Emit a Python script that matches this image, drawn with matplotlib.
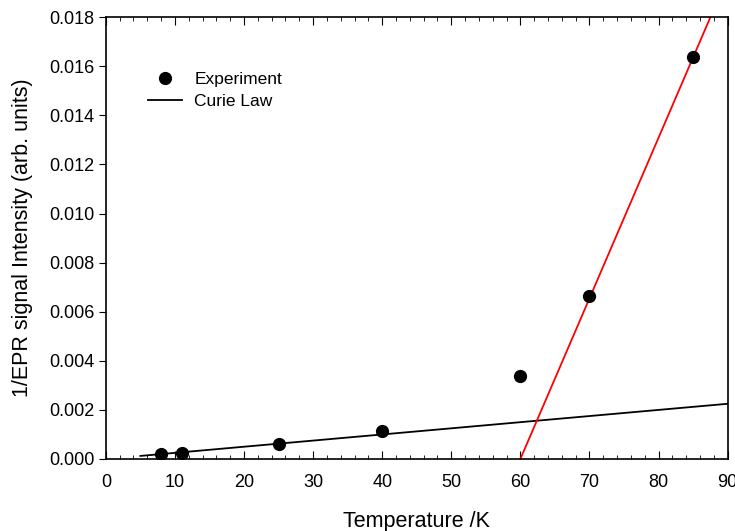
import numpy as np
import matplotlib.pyplot as plt
from matplotlib.ticker import MultipleLocator

plt.rcParams['font.family'] = ['Liberation Sans', 'DejaVu Sans']

# experimental points
temp = [8, 11, 25, 40, 60, 70, 85]
inv_epr = [0.00020, 0.00025, 0.00060, 0.00115, 0.00338, 0.00665, 0.01637]

# Curie law line
curie_t = [5, 90]
curie_y = [0.000125, 0.00225]

# red fit above transition
fit_t = [60, 87.5]
fit_y = [0.0, 0.018]

fig = plt.figure(figsize=(7.35, 5.31), dpi=100)
ax = fig.add_axes([0.144, 0.1356, 0.846, 0.832])

ax.plot(temp, inv_epr, 'o', color='black', markersize=8.5, label='Experiment', zorder=3)
ax.plot(curie_t, curie_y, '-', color='black', lw=1.3, label='Curie Law')
ax.plot(fit_t, fit_y, '-', color='red', lw=1.3)

ax.set_xlim(0, 90)
ax.set_ylim(0, 0.018)
ax.xaxis.set_major_locator(MultipleLocator(10))
ax.xaxis.set_minor_locator(MultipleLocator(2))
ax.yaxis.set_major_locator(MultipleLocator(0.002))
ax.yaxis.set_major_formatter(plt.FormatStrFormatter('%.3f'))

ax.tick_params(axis='x', which='both', direction='in', top=True, labelsize=13, pad=11)
ax.tick_params(axis='x', which='major', length=6)
ax.tick_params(axis='x', which='minor', length=3)
ax.tick_params(axis='y', which='major', direction='out', length=5, labelsize=13, pad=3)
for s in ax.spines.values():
    s.set_linewidth(1.2)

ax.set_xlabel('Temperature /K', fontsize=15.5, labelpad=14)
ax.set_ylabel('1/EPR signal Intensity (arb. units)', fontsize=15.5, labelpad=12)

ax.legend(loc='upper left', bbox_to_anchor=(0.042, 0.912), frameon=False, fontsize=12.5,
          handlelength=2.0, handletextpad=0.7, labelspacing=0.4)

fig.savefig('out.png', dpi=100)
